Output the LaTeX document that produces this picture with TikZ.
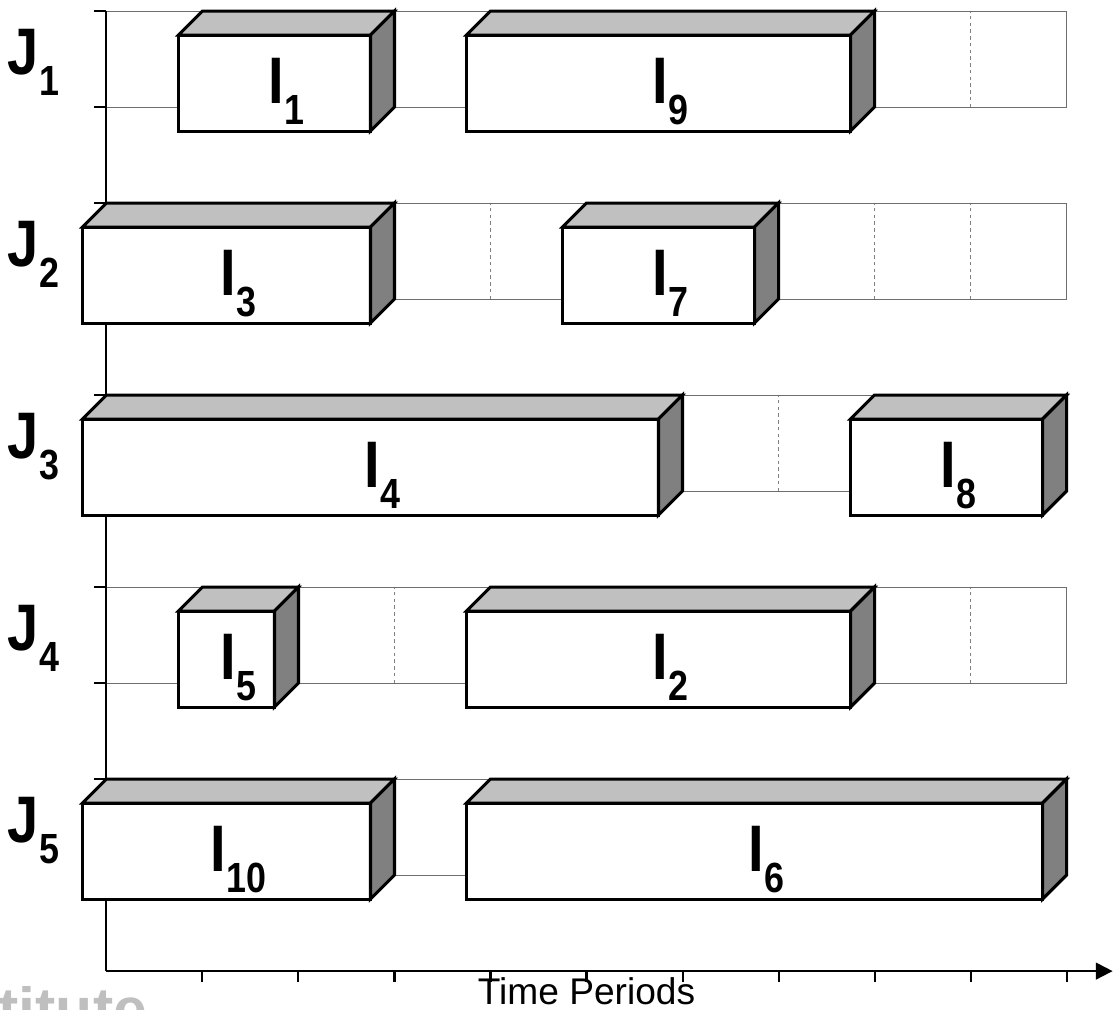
\documentclass[tikz,border=0pt]{standalone}
\usepackage{fontspec}
\setmainfont{Liberation Sans}
\newfontfamily\lblfont[FakeStretch=0.85]{Liberation Sans}
\usepackage{tikz}
\usetikzlibrary{arrows.meta, calc}

\definecolor{topgray}{HTML}{C0C0C0}
\definecolor{sidegray}{HTML}{808080}
\definecolor{gridgray}{HTML}{6E6E6E}

\tikzset{
  boxline/.style={draw=black, line width=0.9pt},
  gridline/.style={draw=gridgray, line width=0.3pt},
  cellline/.style={draw=gray, line width=0.3pt, dash pattern=on 1pt off 1pt},
  axisline/.style={draw=black, line width=0.6pt},
  lbl/.style={font=\lblfont\bfseries\fontsize{19.5}{20}\selectfont, inner sep=0pt, anchor=base},
}
\newcommand{\sublbl}[2]{#1\raisebox{-6.2pt}{\fontsize{12.5}{13}\selectfont #2}}

\begin{document}
\begin{tikzpicture}[x=1cm, y=1cm]

    \useasboundingbox (-1.109,-0.396) rectangle (10.484,10.115);
    \clip (-1.109,-0.396) rectangle (10.484,10.115);

    % Job bands with period cells
    \foreach \j in {1,...,5} {
        \pgfmathsetmacro{\yb}{11-2*\j}
        \foreach \x in {1,...,9}
            \draw[cellline] (\x,\yb) -- (\x,\yb+1);
        \draw[gridline] (0,\yb) -- (10,\yb) -- (10,\yb+1) -- (0,\yb+1);
        \node[lbl] (J\j) at (-0.76,\yb+0.34) {\sublbl{J}{\j}};
    }

    % Axes
    \draw[axisline] (0,10) -- (0,0);
    \draw[axisline, -{Triangle[length=5pt, width=5pt]}] (0,0) -- (10.48,0);
    \foreach \y in {1,...,10}
        \draw[axisline] (-0.125,\y) -- (0,\y);
    \foreach \x in {1,...,10}
        \draw[axisline] (\x,0) -- (\x,-0.115);
    \node[anchor=base, inner sep=0pt, font=\fontsize{11}{12}\selectfont] (tp) at (5,-0.349) {Time Periods};

    % Watermark remains (cut by the lower edge)
    \node[anchor=base west, inner sep=0pt, text=gray!50, font=\bfseries\fontsize{18}{18}\selectfont] (wm) at (-1.13,-0.62) {titute};

    % Task boxes: job / start / end / task
    \foreach \j/\a/\b/\n in {1/1/3/1, 1/4/8/9, 2/0/3/3, 2/5/7/7, 3/0/6/4, 3/8/10/8, 4/1/2/5, 4/4/8/2, 5/0/3/10, 5/4/10/6} {
        \pgfmathsetmacro{\yb}{11-2*\j}
        \pgfmathsetmacro{\yt}{12-2*\j}
        % front face
        \draw[boxline, fill=white] (\a-0.25,\yb-0.25) rectangle (\b-0.25,\yt-0.25);
        % top face
        \draw[boxline, fill=topgray] (\a-0.25,\yt-0.25) -- (\a,\yt) -- (\b,\yt) -- (\b-0.25,\yt-0.25) -- cycle;
        % side face
        \draw[boxline, fill=sidegray] (\b-0.25,\yb-0.25) -- (\b,\yb) -- (\b,\yt) -- (\b-0.25,\yt-0.25) -- cycle;
        \node[lbl] (I\n) at ({(\a+\b)/2-0.125},{(\yb+\yt)/2-0.464}) {\sublbl{I}{\n}};
    }

\end{tikzpicture}
\end{document}
